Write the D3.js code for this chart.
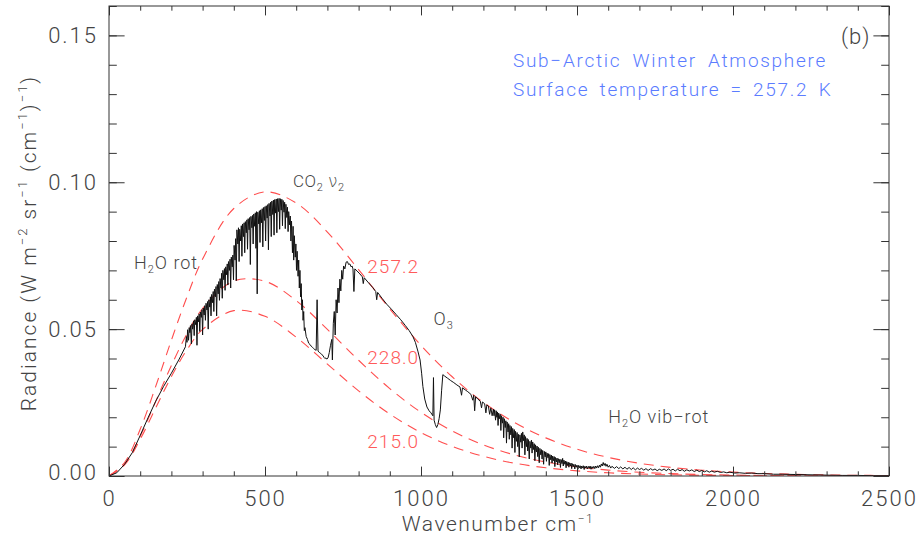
<!DOCTYPE html>
<html>
<head>
<meta charset="utf-8">
<script src="https://cdn.jsdelivr.net/npm/d3@7"></script>
<style>
body { margin: 0; background: #fff; }
svg text { font-family: Roboto, "DejaVu Sans", sans-serif; font-weight: 300; }
</style>
</head>
<body>
<svg id="chart" width="918" height="537"></svg>
<script>
// planck curves
var planckNu = [0, 50, 100, 150, 200, 250, 300, 400, 500, 600, 700, 800, 900, 1000, 1100, 1200, 1300, 1400, 1500, 1600, 1700, 1800, 1900, 2000, 2100, 2200, 2300, 2400, 2500];
var planck2572 = [0, 0.00461, 0.01589, 0.03059, 0.04623, 0.06103, 0.07383, 0.09106, 0.09671, 0.09292, 0.08305, 0.07025, 0.05688, 0.04447, 0.03378, 0.02504, 0.01819, 0.01298, 0.00912, 0.00633, 0.00434, 0.00294, 0.00198, 0.00132, 0.00087, 0.00057, 0.00037, 0.00024, 0.00016];
var planck2280 = [0, 0.00401, 0.01354, 0.02549, 0.03762, 0.04842, 0.05702, 0.06640, 0.06629, 0.05970, 0.04990, 0.03940, 0.02976, 0.02168, 0.01534, 0.01059, 0.00716, 0.00476, 0.00311, 0.00201, 0.00128, 0.00081, 0.00051, 0.00031, 0.00019, 0.00012, 0.00007, 0.00004, 0.00003];
var planck2150 = [0, 0.00375, 0.01250, 0.02325, 0.03387, 0.04300, 0.04989, 0.05630, 0.05436, 0.04726, 0.03809, 0.02899, 0.02109, 0.01480, 0.01008, 0.00670, 0.00436, 0.00279, 0.00176, 0.00109, 0.00067, 0.00041, 0.00025, 0.00015, 0.00009, 0.00005, 0.00003, 0.00002, 0.00001];
var curveLabels = ["257.2", "228.0", "215.0"];
var curveLabelY = [0.0690, 0.0381, 0.0095];

// measured spectrum [wavenumber, radiance]
var spectrum = [
[0,0],[25,0.0011],[50,0.0040],[75,0.0080],[100,0.0138],[125,0.0198],[150,0.0255],[175,0.0305],[200,0.0350],[225,0.0398],[245,0.0440],
[248,0.0475],[250,0.0455],[252,0.0498],[255,0.0462],[257,0.0505],[259,0.0488],[261,0.0512],[264,0.0450],[266,0.0518],[268,0.0500],
[271,0.0528],[273,0.0478],[275,0.0532],[278,0.0515],[280,0.0540],[282,0.0445],[284,0.0545],[287,0.0525],[289,0.0552],[291,0.0492],
[293,0.0558],[296,0.0540],[298,0.0566],[300,0.0480],[302,0.0572],[305,0.0548],[307,0.0580],[309,0.0530],[311,0.0588],[314,0.0565],
[316,0.0594],[318,0.0500],[320,0.0600],[323,0.0575],[325,0.0610],[327,0.0545],[329,0.0618],[332,0.0590],[334,0.0628],[336,0.0560],
[338,0.0636],[341,0.0610],[343,0.0645],[345,0.0545],[347,0.0652],[350,0.0620],[352,0.0662],[354,0.0598],[356,0.0672],[359,0.0640],
[361,0.0690],[363,0.0605],[365,0.0700],[368,0.0668],[370,0.0706],[372,0.0632],[374,0.0712],[377,0.0685],[379,0.0722],[381,0.0650],
[383,0.0730],[386,0.0700],[388,0.0738],[390,0.0640],[392,0.0745],[395,0.0712],[397,0.0752],[399,0.0668],[401,0.0785],[404,0.0735],
[406,0.0808],[408,0.0665],[410,0.0838],[413,0.0790],[415,0.0845],[417,0.0730],[419,0.0840],[422,0.0800],[424,0.0852],[426,0.0748],
[428,0.0858],[431,0.0815],[433,0.0862],[435,0.0760],[437,0.0866],[440,0.0828],[442,0.0872],[444,0.0772],[446,0.0876],[449,0.0838],
[451,0.0880],[453,0.0720],[455,0.0884],[458,0.0845],[460,0.0887],[462,0.0790],[464,0.0892],[467,0.0850],[469,0.0896],[471,0.0775],
[473,0.0900],[475,0.0620],[477,0.0898],[480,0.0858],[482,0.0903],[484,0.0795],[486,0.0906],[489,0.0862],[491,0.0910],[493,0.0780],
[495,0.0914],[498,0.0870],[500,0.0917],[502,0.0800],[504,0.0920],[507,0.0878],[509,0.0924],[511,0.0770],[513,0.0928],[516,0.0885],
[518,0.0932],[520,0.0815],[522,0.0936],[525,0.0890],[527,0.0939],[529,0.0820],[531,0.0941],[534,0.0895],[536,0.0943],[538,0.0828],
[540,0.0944],[543,0.0900],[545,0.0945],[547,0.0840],[549,0.0944],[552,0.0905],[554,0.0942],[556,0.0852],[558,0.0938],[561,0.0898],
[563,0.0932],[565,0.0842],[567,0.0925],[570,0.0880],[572,0.0915],[574,0.0832],[576,0.0900],[579,0.0855],[581,0.0885],[583,0.0800],
[585,0.0868],[588,0.0760],[590,0.0850],[592,0.0735],[594,0.0818],[597,0.0745],[599,0.0790],[601,0.0700],[603,0.0765],[606,0.0680],
[608,0.0735],[610,0.0640],[612,0.0700],[614,0.0610],[616,0.0655],[618,0.0565],[620,0.0600],[622,0.0530],[624,0.0560],[626,0.0495],
[628,0.0505],[632,0.0475],[636,0.0465],[640,0.0452],[644,0.0448],[648,0.0442],[652,0.0438],[656,0.0434],[660,0.0430],[664,0.0428],
[667,0.0600],[670,0.0425],[674,0.0421],[678,0.0418],[682,0.0413],[686,0.0410],[689,0.0404],[692,0.0400],[695,0.0402],[698,0.0398],
[702,0.0402],[706,0.0420],[710,0.0445],[714,0.0465],[716,0.0395],[719,0.0520],[722,0.0560],[725,0.0480],[728,0.0600],[731,0.0555],
[734,0.0640],[737,0.0590],[740,0.0670],[743,0.0630],[746,0.0700],[749,0.0670],[752,0.0715],[756,0.0705],[760,0.0728],[764,0.0730],
[768,0.0720],[772,0.0722],[776,0.0712],[779,0.0715],[782,0.0705],[785,0.0628],[788,0.0705],[795,0.0698],[804,0.0688],[812,0.0678],
[815,0.0655],[818,0.0675],[830,0.0660],[845,0.0642],[855,0.0628],[858,0.0600],[861,0.0625],[875,0.0605],[890,0.0585],[905,0.0568],
[920,0.0550],[935,0.0532],[950,0.0512],[962,0.0495],[974,0.0475],[982,0.0455],[990,0.0425],[997,0.0395],[1002,0.0350],[1006,0.0305],
[1012,0.0262],[1019,0.0235],[1026,0.0222],[1032,0.0215],[1038,0.0205],[1040,0.0335],[1042,0.0190],[1046,0.0175],[1050,0.0165],[1054,0.0175],
[1058,0.0195],[1062,0.0225],[1066,0.0290],[1070,0.0345],[1076,0.0340],[1085,0.0333],[1095,0.0325],[1105,0.0318],[1115,0.0310],[1125,0.0303],
[1130,0.0275],[1133,0.0300],[1142,0.0293],[1150,0.0287],[1160,0.0278],[1166,0.0258],[1169,0.0275],[1172,0.0222],[1175,0.0270],[1182,0.0262],
[1190,0.0255],[1194,0.0232],[1197,0.0252],[1204,0.0246],[1208,0.0215],[1211,0.0242],[1216,0.0238],[1220,0.0210],[1224,0.0232],[1228,0.0205],
[1232,0.0228],[1234,0.0205],[1236,0.0225],[1239,0.0190],[1241,0.0222],[1243,0.0200],[1245,0.0218],[1247,0.0172],[1249,0.0214],[1252,0.0195],
[1254,0.0210],[1256,0.0155],[1258,0.0205],[1261,0.0180],[1263,0.0200],[1265,0.0130],[1267,0.0195],[1270,0.0165],[1272,0.0188],[1274,0.0112],
[1276,0.0184],[1279,0.0150],[1281,0.0178],[1283,0.0125],[1285,0.0172],[1288,0.0140],[1290,0.0168],[1292,0.0095],[1294,0.0162],[1297,0.0130],
[1299,0.0158],[1301,0.0080],[1303,0.0152],[1306,0.0118],[1308,0.0148],[1310,0.0100],[1312,0.0142],[1315,0.0065],[1317,0.0140],[1320,0.0115],
[1322,0.0145],[1324,0.0095],[1326,0.0150],[1329,0.0120],[1331,0.0140],[1333,0.0072],[1335,0.0134],[1338,0.0100],[1340,0.0128],[1342,0.0085],
[1344,0.0124],[1347,0.0058],[1349,0.0118],[1352,0.0095],[1354,0.0122],[1356,0.0078],[1358,0.0116],[1361,0.0090],[1363,0.0110],[1365,0.0052],
[1367,0.0106],[1370,0.0082],[1372,0.0102],[1374,0.0066],[1376,0.0098],[1379,0.0045],[1381,0.0094],[1384,0.0072],[1386,0.0090],[1388,0.0058],
[1390,0.0087],[1393,0.0040],[1395,0.0084],[1398,0.0065],[1400,0.0082],[1402,0.0050],[1404,0.0078],[1407,0.0062],[1409,0.0076],[1411,0.0036],
[1413,0.0073],[1416,0.0055],[1418,0.0071],[1420,0.0044],[1422,0.0068],[1425,0.0052],[1427,0.0066],[1429,0.0032],[1431,0.0063],[1434,0.0048],
[1436,0.0061],[1438,0.0038],[1440,0.0059],[1443,0.0045],[1445,0.0057],[1447,0.0029],[1449,0.0056],[1452,0.0042],[1454,0.0060],[1456,0.0034],
[1458,0.0054],[1461,0.0040],[1463,0.0051],[1465,0.0028],[1467,0.0049],[1470,0.0036],[1472,0.0047],[1474,0.0030],[1476,0.0045],[1479,0.0034],
[1481,0.0044],[1483,0.0025],[1485,0.0042],[1488,0.0032],[1490,0.0040],[1493,0.0024],[1495,0.0039],[1498,0.0030],[1500,0.0037],[1503,0.0023],
[1505,0.0036],[1508,0.0028],[1510,0.0035],[1513,0.0024],[1515,0.0034],[1518,0.0027],[1520,0.0035],[1523,0.0022],[1525,0.0033],[1528,0.0027],
[1530,0.0034],[1533,0.0024],[1536,0.0033],[1539,0.0026],[1542,0.0034],[1545,0.0023],[1548,0.0032],[1551,0.0026],[1554,0.0033],[1557,0.0025],
[1560,0.0034],[1563,0.0027],[1566,0.0035],[1569,0.0028],[1572,0.0037],[1575,0.0030],[1578,0.0041],[1581,0.0034],[1584,0.0046],[1587,0.0036],
[1590,0.0043],[1593,0.0033],[1596,0.0040],[1600,0.0030],[1604,0.0036],[1608,0.0027],[1612,0.0033],
[1620,0.0026],[1627,0.0032],[1634,0.0025],[1640,0.0031],[1647,0.0024],[1654,0.0030],[1660,0.0023],[1667,0.0029],[1674,0.0022],[1680,0.0028],
[1687,0.0021],[1694,0.0027],[1700,0.0022],[1707,0.0026],[1714,0.0020],[1721,0.0025],[1728,0.0019],[1736,0.0025],[1743,0.0020],[1750,0.0024],
[1757,0.0018],[1764,0.0023],[1772,0.0019],[1779,0.0024],[1786,0.0018],[1793,0.0024],[1800,0.0019],[1808,0.0023],[1815,0.0017],[1822,0.0023],
[1830,0.0018],[1837,0.0022],[1844,0.0016],[1852,0.0021],[1860,0.0017],[1868,0.0021],[1876,0.0015],[1884,0.0020],[1892,0.0015],[1900,0.0019],
[1908,0.0014],[1916,0.0018],[1924,0.0013],[1932,0.0017],[1940,0.0013],[1950,0.0016],[1960,0.0012],[1970,0.0014],[1980,0.0011],[1990,0.0013],
[2005,0.0010],[2020,0.0011],[2040,0.0009],[2060,0.0010],[2080,0.0008],[2100,0.0008],[2130,0.0006],[2160,0.0006],[2200,0.0005],[2250,0.0004],
[2300,0.0003],[2350,0.0002],[2400,0.0002],[2450,0.0001],[2500,0.0001]
];

var xTicks = [0, 500, 1000, 1500, 2000, 2500];
var xMinor = d3.range(0, 2501, 100);
var yTicks = [0, 0.05, 0.10, 0.15];
var yMinor = d3.range(0, 0.1601, 0.01);

var plotLeft = 109, plotRight = 889, plotTop = 6, plotBottom = 476;

var svg = d3.select("#chart");

var x = d3.scaleLinear().domain([0, 2500]).range([plotLeft, plotRight]);
var y = d3.scaleLinear().domain([0, 0.16]).range([plotBottom, plotTop]);

svg.append("clipPath").attr("id", "plotClip")
	.append("rect")
	.attr("x", plotLeft).attr("y", plotTop)
	.attr("width", plotRight - plotLeft).attr("height", plotBottom - plotTop);

// planck curves
var planckSets = [planck2572, planck2280, planck2150];
var planckLine = d3.line()
	.x(function(d) { return x(d[0]); })
	.y(function(d) { return y(d[1]); })
	.curve(d3.curveCatmullRom);

for (var i = 0; i < planckSets.length; i++) {
	var pts = planckNu.map(function(n, j) { return [n, planckSets[i][j]]; });
	svg.append("path")
		.datum(pts)
		.attr("clip-path", "url(#plotClip)")
		.attr("d", planckLine)
		.attr("fill", "none")
		.attr("stroke", "#ff4d4d")
		.attr("stroke-width", 1.1)
		.attr("stroke-dasharray", "10,7");
}

// spectrum
var specLine = d3.line()
	.x(function(d) { return x(d[0]); })
	.y(function(d) { return y(d[1]); });

svg.append("path")
	.datum(spectrum)
	.attr("clip-path", "url(#plotClip)")
	.attr("d", specLine)
	.attr("fill", "none")
	.attr("stroke", "#111")
	.attr("stroke-width", 1);

// axes
function styleAxis(g) {
	g.select(".domain").remove();
	g.selectAll(".tick line").attr("stroke", "#333");
	g.selectAll(".tick text")
		.attr("fill", "#444")
		.style("font-size", "22px")
		.style("letter-spacing", "2px");
}

var fmtY = d3.format(".2f");

svg.append("g").attr("transform", "translate(0," + plotBottom + ")")
	.call(d3.axisBottom(x).tickValues(xMinor).tickSize(-4.7).tickFormat(""))
	.call(styleAxis);
svg.append("g").attr("transform", "translate(0," + plotBottom + ")")
	.call(d3.axisBottom(x).tickValues(xTicks).tickSize(-9.4).tickPadding(14).tickFormat(d3.format("d")))
	.call(styleAxis);
svg.append("g").attr("transform", "translate(0," + plotTop + ")")
	.call(d3.axisTop(x).tickValues(xMinor).tickSize(-4.7).tickFormat(""))
	.call(styleAxis);
svg.append("g").attr("transform", "translate(0," + plotTop + ")")
	.call(d3.axisTop(x).tickValues(xTicks).tickSize(-9.4).tickFormat(""))
	.call(styleAxis);

svg.append("g").attr("transform", "translate(" + plotLeft + ",0)")
	.call(d3.axisLeft(y).tickValues(yMinor).tickSize(-7.8).tickFormat(""))
	.call(styleAxis);
var yAxisG = svg.append("g").attr("transform", "translate(" + plotLeft + ",0)")
	.call(d3.axisLeft(y).tickValues(yTicks).tickSize(-15.6).tickPadding(11).tickFormat(fmtY))
	.call(styleAxis);
// the 0.00 label sits a little above its tick
yAxisG.selectAll(".tick text").filter(function(d) { return d === 0; }).attr("y", -4);

svg.append("g").attr("transform", "translate(" + plotRight + ",0)")
	.call(d3.axisRight(y).tickValues(yMinor).tickSize(-7.8).tickFormat(""))
	.call(styleAxis);
svg.append("g").attr("transform", "translate(" + plotRight + ",0)")
	.call(d3.axisRight(y).tickValues(yTicks).tickSize(-15.6).tickFormat(""))
	.call(styleAxis);

svg.append("rect")
	.attr("x", plotLeft).attr("y", plotTop)
	.attr("width", plotRight - plotLeft).attr("height", plotBottom - plotTop)
	.attr("fill", "none")
	.attr("stroke", "#333")
	.attr("stroke-width", 1);

// axis titles
var xTitle = svg.append("text")
	.attr("x", 498).attr("y", 531)
	.attr("text-anchor", "middle")
	.attr("fill", "#444")
	.style("font-size", "21px")
	.style("letter-spacing", "1.5px");
xTitle.append("tspan").text("Wavenumber cm");
xTitle.append("tspan").attr("dy", -8).style("font-size", "12px").text("−1");

var yTitle = svg.append("text")
	.attr("transform", "translate(36,243) rotate(-90)")
	.attr("text-anchor", "middle")
	.attr("fill", "#444")
	.style("font-size", "21px")
	.style("letter-spacing", "2px");
yTitle.append("tspan").text("Radiance (W m");
yTitle.append("tspan").attr("dy", -9).style("font-size", "13px").text("−2");
yTitle.append("tspan").attr("dy", 9).text(" sr");
yTitle.append("tspan").attr("dy", -9).style("font-size", "13px").text("−1");
yTitle.append("tspan").attr("dy", 9).text(" (cm");
yTitle.append("tspan").attr("dy", -9).style("font-size", "13px").text("−1");
yTitle.append("tspan").attr("dy", 9).text(")");
yTitle.append("tspan").attr("dy", -9).style("font-size", "13px").text("−1");
yTitle.append("tspan").attr("dy", 9).text(")");

// annotations
function note(tx, ty, color, size) {
	return svg.append("text")
		.attr("x", tx).attr("y", ty)
		.attr("fill", color)
		.style("font-size", size + "px")
		.style("letter-spacing", "1px");
}

note(841, 44, "#444", 22).text("(b)");
note(513, 67, "#5b7cff", 19).style("letter-spacing", "1.7px").style("word-spacing", "5px")
	.text("Sub−Arctic Winter Atmosphere");
note(513, 96, "#5b7cff", 19).style("letter-spacing", "1.7px").style("word-spacing", "4px")
	.text("Surface temperature = 257.2 K");

var co2 = note(x(590), y(0.0985), "#444", 17).style("letter-spacing", "0.5px");
co2.append("tspan").text("CO");
co2.append("tspan").attr("dy", 4).style("font-size", "11px").text("2");
co2.append("tspan").attr("dy", -4).text(" ");
co2.append("tspan").style("font-family", "'DejaVu Sans', sans-serif").text("ν");
co2.append("tspan").attr("dy", 4).style("font-size", "11px").text("2");

var h2o = note(x(80), y(0.0705), "#444", 18);
h2o.append("tspan").text("H");
h2o.append("tspan").attr("dy", 4).style("font-size", "11px").text("2");
h2o.append("tspan").attr("dy", -4).text("O rot");

var o3 = note(x(1040), y(0.0515), "#444", 18);
o3.append("tspan").text("O");
o3.append("tspan").attr("dy", 4).style("font-size", "11px").text("3");

var h2ov = note(x(1600), y(0.0180), "#444", 18);
h2ov.append("tspan").text("H");
h2ov.append("tspan").attr("dy", 4).style("font-size", "11px").text("2");
h2ov.append("tspan").attr("dy", -4).text("O vib−rot");

for (var k = 0; k < curveLabels.length; k++) {
	note(x(828), y(curveLabelY[k]), "#ff5a5a", 19).text(curveLabels[k]);
}
</script>
</body>
</html>
